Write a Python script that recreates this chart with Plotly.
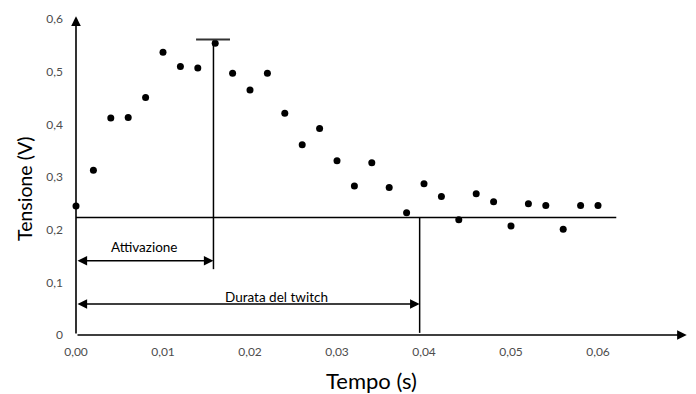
import plotly.graph_objects as go

# Data
tempo = [0.000, 0.002, 0.004, 0.006, 0.008, 0.010, 0.012, 0.014, 0.016, 0.018,
         0.020, 0.022, 0.024, 0.026, 0.028, 0.030, 0.032, 0.034, 0.036, 0.038,
         0.040, 0.042, 0.044, 0.046, 0.048, 0.050, 0.052, 0.054, 0.056, 0.058, 0.060]
tensione = [0.245, 0.313, 0.412, 0.413, 0.451, 0.537, 0.510, 0.507, 0.554, 0.497,
            0.465, 0.497, 0.421, 0.361, 0.392, 0.331, 0.283, 0.327, 0.280, 0.232,
            0.287, 0.263, 0.219, 0.268, 0.253, 0.207, 0.249, 0.246, 0.201, 0.246, 0.246]

x_ticks = [0.00, 0.01, 0.02, 0.03, 0.04, 0.05, 0.06, 0.07]
x_ticktext = ["0,00", "0,01", "0,02", "0,03", "0,04", "0,05", "0,06", "0,07"]
y_ticks = [0, 0.1, 0.2, 0.3, 0.4, 0.5, 0.6]
y_ticktext = ["0", "0,1", "0,2", "0,3", "0,4", "0,5", "0,6"]

baseline = 0.223
t_attivazione = 0.0158
t_durata = 0.0395
picco = 0.560

FONT = "Lato, 'Open Sans', sans-serif"
TICKCOL = "#4d4d4d"

fig = go.Figure()
fig.add_trace(go.Scatter(
    x=tempo, y=tensione, mode="markers",
    marker=dict(color="black", size=7),
    showlegend=False, cliponaxis=False,
))

lw = 1.5
# baseline
fig.add_shape(type="line", xref="x", yref="y", x0=0, x1=0.0621, y0=baseline, y1=baseline,
              line=dict(color="black", width=lw))
# vertical line at end of activation
fig.add_shape(type="line", xref="x", yref="y", x0=t_attivazione, x1=t_attivazione,
              y0=0.125, y1=picco, line=dict(color="black", width=lw))
# peak cap
fig.add_shape(type="line", xref="x", yref="y", x0=0.0138, x1=0.0177, y0=picco + 0.001,
              y1=picco + 0.001, line=dict(color="#333333", width=2))
# vertical line at end of twitch
fig.add_shape(type="line", xref="x", yref="y", x0=t_durata, x1=t_durata,
              y0=0.004, y1=baseline, line=dict(color="black", width=lw))

annotations = []
# axes as arrows
annotations.append(dict(x=0.0, y=0.605, ax=0.0, ay=0.0, xref="x", yref="y", axref="x", ayref="y",
                        showarrow=True, arrowhead=2, arrowsize=1.2, arrowwidth=1.6,
                        arrowcolor="black", text=""))
annotations.append(dict(x=0.0702, y=0.0, ax=0.0, ay=0.0, xref="x", yref="y", axref="x", ayref="y",
                        showarrow=True, arrowhead=2, arrowsize=1.2, arrowwidth=1.6,
                        arrowcolor="black", text=""))
# double arrows
annotations.append(dict(x=t_attivazione, y=0.141, ax=0.0, ay=0.141, xref="x", yref="y",
                        axref="x", ayref="y", showarrow=True, arrowhead=2, arrowside="end+start",
                        arrowsize=1.2, arrowwidth=1.6, arrowcolor="black", text=""))
annotations.append(dict(x=t_durata, y=0.059, ax=0.0, ay=0.059, xref="x", yref="y",
                        axref="x", ayref="y", showarrow=True, arrowhead=2, arrowside="end+start",
                        arrowsize=1.2, arrowwidth=1.6, arrowcolor="black", text=""))
# labels
annotations.append(dict(x=0.0078, y=0.167, xref="x", yref="y", text="Attivazione",
                        xanchor="center", yanchor="middle",
                        showarrow=False, font=dict(family=FONT, size=13.5, color="black")))
annotations.append(dict(x=0.0231, y=0.073, xref="x", yref="y", text="Durata del twitch",
                        xanchor="center", yanchor="middle",
                        showarrow=False, font=dict(family=FONT, size=13.5, color="black")))
# axis titles
annotations.append(dict(x=(371 - 76) / 609, y=(335 - 380) / 316, xref="paper", yref="paper",
                        text="Tempo (s)", showarrow=False, xanchor="center", yanchor="middle",
                        font=dict(family=FONT, size=22, color="black")))
annotations.append(dict(x=(24 - 76) / 609, y=(335 - 188) / 316, xref="paper", yref="paper",
                        text="Tensione (V)", showarrow=False, textangle=-90,
                        xanchor="center", yanchor="middle",
                        font=dict(family=FONT, size=19.5, color="black")))

fig.update_layout(
    width=696, height=394,
    margin=dict(l=76, r=11, t=19, b=59),
    paper_bgcolor="white", plot_bgcolor="white",
    annotations=annotations,
    xaxis=dict(range=[0, 0.07], tickvals=x_ticks, ticktext=x_ticktext,
               showgrid=False, zeroline=False, showline=False, ticks="",
               ticklabelstandoff=8,
               tickfont=dict(family=FONT, size=12, color=TICKCOL)),
    yaxis=dict(range=[0, 0.6], tickvals=y_ticks, ticktext=y_ticktext,
               showgrid=False, zeroline=False, showline=False, ticks="",
               ticklabelstandoff=12,
               tickfont=dict(family=FONT, size=12, color=TICKCOL)),
)

fig.write_html("out.html")
